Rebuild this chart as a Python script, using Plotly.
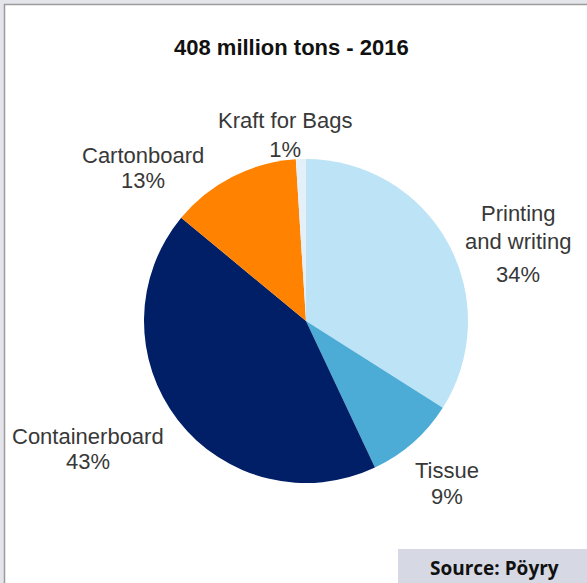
import plotly.graph_objects as go

# Global paper production by grade, 2016
grades = ["Printing and writing", "Tissue", "Containerboard", "Cartonboard", "Kraft for Bags"]
shares = [34, 9, 43, 13, 1]
colors = ["#bde3f6", "#4cacd6", "#001f66", "#ff8200", "#e3f0fa"]
title_text = "408 million tons - 2016"
source_text = "Source: Pöyry"

# Label placement (pixel centres) for each grade's name lines and share
label_lines = {
    "Printing and writing": (["Printing", "and writing"], 518, [213, 241], 274),
    "Tissue": (["Tissue"], 447, [470], 496),
    "Containerboard": (["Containerboard"], 88, [436], 461),
    "Cartonboard": (["Cartonboard"], 143, [155], 181),
}
# Small slice: name and share set as one two-line block
kraft_centre = (285, 135)

W, H = 587, 583


def px(x):
    return x / W


def py(y):
    return 1 - y / H


# Pie centre and radius in pixels
cx, cy, r = 306, 321, 162

fig = go.Figure(
    go.Pie(
        labels=grades,
        values=shares,
        sort=False,
        direction="clockwise",
        rotation=0,
        marker=dict(colors=colors, line=dict(width=0)),
        textinfo="none",
        hoverinfo="label+percent",
        showlegend=False,
        domain=dict(x=[px(cx - r), px(cx + r)], y=[py(cy + r), py(cy - r)]),
    )
)

annotations = []
label_font = dict(family="Liberation Sans, Arial, sans-serif", size=22, color="#383838")
for name, share in zip(grades, shares):
    if name in label_lines:
        lines, x, ys, y_pct = label_lines[name]
        for line, y in zip(lines, ys):
            annotations.append(dict(
                x=px(x), y=py(y), xref="paper", yref="paper", text=line,
                showarrow=False, xanchor="center", yanchor="middle", font=label_font,
            ))
        annotations.append(dict(
            x=px(x), y=py(y_pct), xref="paper", yref="paper", text=f"{share}%",
            showarrow=False, xanchor="center", yanchor="middle", font=label_font,
        ))
    else:
        kx, ky = kraft_centre
        annotations.append(dict(
            x=px(kx), y=py(ky), xref="paper", yref="paper", text=f"{name}<br>{share}%",
            showarrow=False, xanchor="center", yanchor="middle", align="center",
            font=label_font,
        ))

# Chart title
annotations.append(dict(
    x=px(291), y=py(48), xref="paper", yref="paper", text=f"<b>{title_text}</b>",
    showarrow=False, xanchor="center", yanchor="middle",
    font=dict(family="Liberation Sans, Arial, sans-serif", size=22, color="#111111"),
))

# Source tag
annotations.append(dict(
    x=px(494), y=py(568), xref="paper", yref="paper", text=f"<b>{source_text}</b>",
    showarrow=False, xanchor="center", yanchor="middle",
    font=dict(family="Open Sans, Inter, sans-serif", size=19, color="#111111"),
))

shapes = [
    # white panel with a grey rule on the left and top
    dict(type="rect", xref="paper", yref="paper", x0=px(4), x1=1, y0=0, y1=py(4),
         fillcolor="white", line=dict(width=0), layer="below"),
    dict(type="line", xref="paper", yref="paper", x0=px(4.5), x1=px(4.5), y0=0, y1=py(4),
         line=dict(color="#9c9c9c", width=1.5), layer="below"),
    dict(type="line", xref="paper", yref="paper", x0=px(4), x1=1, y0=py(4.5), y1=py(4.5),
         line=dict(color="#9c9c9c", width=1.5), layer="below"),
    # source box
    dict(type="rect", xref="paper", yref="paper", x0=px(398), x1=1, y0=0, y1=py(549),
         fillcolor="#d6d9e3", line=dict(width=0), layer="below"),
]

fig.update_layout(
    width=W, height=H,
    margin=dict(l=0, r=0, t=0, b=0),
    paper_bgcolor="#e4e5ea",
    plot_bgcolor="white",
    annotations=annotations,
    shapes=shapes,
)

fig.write_html("out.html")
